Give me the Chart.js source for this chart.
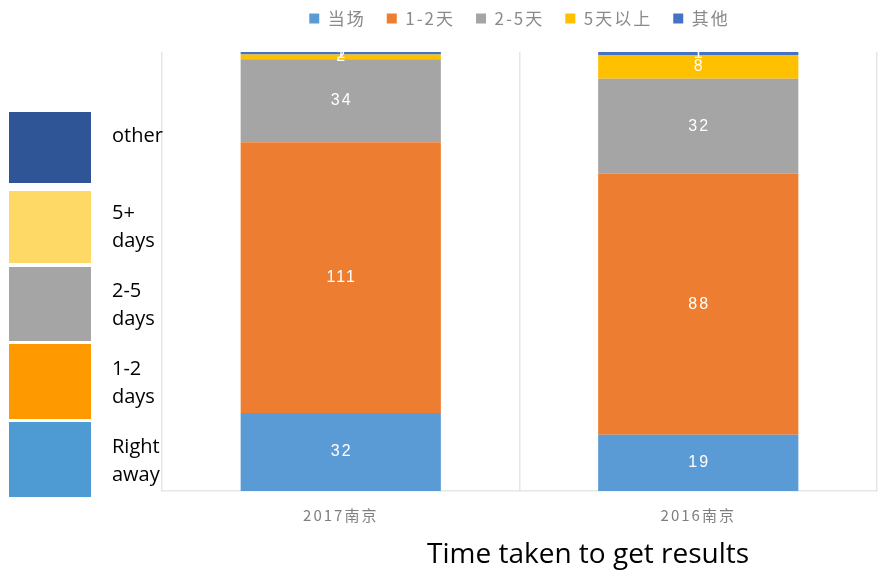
<!DOCTYPE html>
<html>
<head>
<meta charset="utf-8">
<script src="https://cdn.jsdelivr.net/npm/chart.js@4"></script>
<style>
  html, body { margin:0; padding:0; background:#fff; }
  #wrap { position:relative; width:884px; height:577px; overflow:hidden; }
  #c { position:absolute; left:0; top:0; }
  .lg { position:absolute; left:9px; width:82px; }
  .lt { position:absolute; left:112px; font-family:"Open Sans", sans-serif; font-size:20px; line-height:28px; color:#000; white-space:nowrap; }
  #title { position:absolute; left:427px; top:533px; font-family:"Open Sans", sans-serif; font-size:28px; line-height:38px; color:#000; white-space:nowrap; }
</style>
</head>
<body>
<div id="wrap">
  <canvas id="c" width="884" height="577"></canvas>
  <div class="lg" style="top:112px;height:71px;background:#2F5597"></div>
  <div class="lg" style="top:191px;height:72px;background:#FFD966"></div>
  <div class="lg" style="top:267px;height:74px;background:#A5A5A5"></div>
  <div class="lg" style="top:344px;height:75px;background:#FF9900"></div>
  <div class="lg" style="top:422px;height:75px;background:#4E9BD3"></div>
  <div class="lt" style="top:121px">other</div>
  <div class="lt" style="top:198px">5+<br>days</div>
  <div class="lt" style="top:276px">2-5<br>days</div>
  <div class="lt" style="top:354px">1-2<br>days</div>
  <div class="lt" style="top:432px">Right<br>away</div>
  <div id="title">Time taken to get results</div>
</div>
<script>
const categories = ['2017南京', '2016南京'];
const seriesNames = ['当场', '1-2天', '2-5天', '5天以上', '其他'];
const onTheSpot = [32, 19];
const oneToTwoDays = [111, 88];
const twoToFiveDays = [34, 32];
const fivePlusDays = [2, 8];
const otherCounts = [1, 1];
const seriesColors = ['#5B9BD5', '#ED7D31', '#A5A5A5', '#FFC000', '#4472C4'];

const seriesCounts = [onTheSpot, oneToTwoDays, twoToFiveDays, fivePlusDays, otherCounts];
const totals = categories.map((_, i) => seriesCounts.reduce((s, arr) => s + arr[i], 0));

const datasets = seriesCounts.map((arr, k) => ({
  label: seriesNames[k],
  data: arr.map((v, i) => v / totals[i] * 100),
  counts: arr,
  backgroundColor: seriesColors[k],
  borderWidth: 0,
  categoryPercentage: 1,
  barPercentage: 0.56
}));

const LEGEND_BAND = 52;   // height reserved for the top legend
const LEGEND_SHIFT = -11; // move legend text up inside its band

const layoutPlugin = {
  id: 'layoutTweaks',
  beforeLayout(chart) {
    chart.ctx.letterSpacing = '2px';
    const lg = chart.legend;
    if (lg && !lg._patched) {
      const fit = lg.fit.bind(lg);
      lg.fit = function () { fit(); this.height = LEGEND_BAND; };
      const draw = lg.draw.bind(lg);
      lg.draw = function () {
        const ctx = this.ctx;
        ctx.save();
        ctx.letterSpacing = '2px';
        ctx.translate(0, LEGEND_SHIFT);
        draw();
        ctx.restore();
      };
      lg._patched = true;
    }
  },
  afterDatasetsDraw(chart) {
    const ctx = chart.ctx;
    ctx.save();
    ctx.letterSpacing = '2px';
    ctx.font = '16px "Liberation Sans", sans-serif';
    ctx.fillStyle = '#ffffff';
    ctx.textAlign = 'center';
    ctx.textBaseline = 'middle';
    chart.data.datasets.forEach((ds, di) => {
      const meta = chart.getDatasetMeta(di);
      meta.data.forEach((el, i) => {
        const p = el.getCenterPoint();
        ctx.fillText(String(ds.counts[i]), p.x + 1, p.y);
      });
    });
    ctx.restore();
    // spacing for the x-axis tick labels, drawn after datasets (z: 1)
    ctx.letterSpacing = '4px';
  }
};

new Chart(document.getElementById('c'), {
  type: 'bar',
  data: { labels: categories, datasets },
  plugins: [layoutPlugin],
  options: {
    responsive: false,
    devicePixelRatio: 1,
    animation: false,
    layout: { padding: { left: 162, right: 7, top: 0, bottom: 38 } },
    plugins: {
      legend: {
        position: 'top',
        labels: {
          boxWidth: 10, boxHeight: 10,
          padding: 21,
          color: '#8a8a8a',
          font: { size: 17, family: '"Noto Sans CJK SC", sans-serif' }
        }
      },
      tooltip: { enabled: false }
    },
    scales: {
      x: {
        stacked: true,
        z: 1,
        grid: { color: '#e6e6e6', lineWidth: 1.5, tickLength: 0, offset: true },
        border: { color: '#e6e6e6', width: 1.5 },
        ticks: { color: '#7f7f7f', padding: 15, font: { size: 15, family: '"Noto Sans CJK SC", sans-serif' } }
      },
      y: {
        stacked: true,
        min: 0, max: 100,
        display: false
      }
    }
  }
});
</script>
</body>
</html>
